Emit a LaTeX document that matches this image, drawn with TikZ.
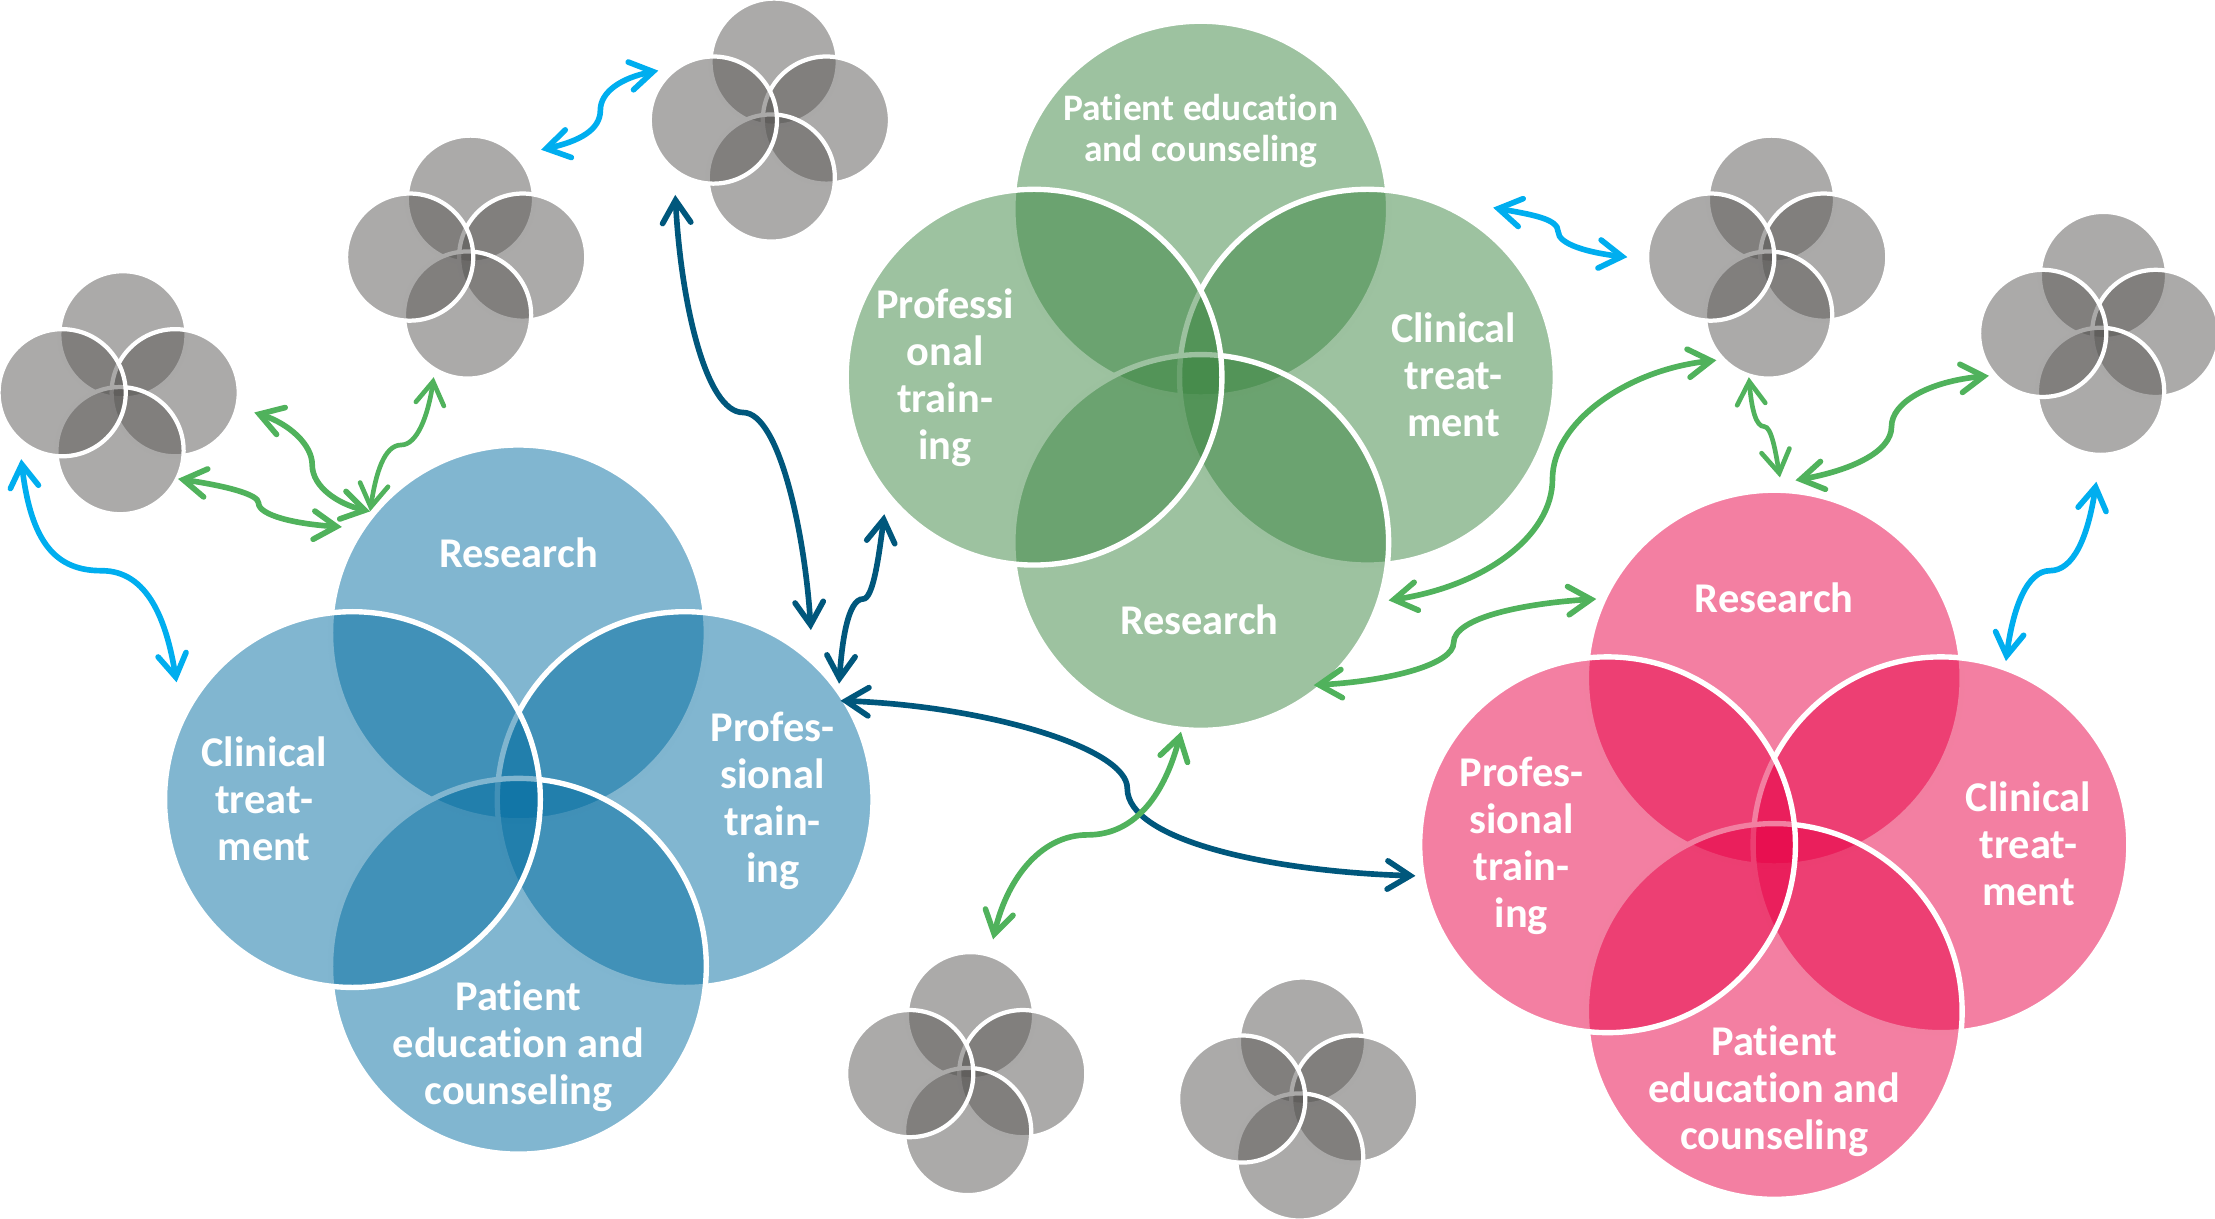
\documentclass[tikz,border=0pt]{standalone}
\usepackage{fontspec}
\setmainfont{Carlito}[Ligatures=NoCommon]
\usetikzlibrary{arrows.meta}
\definecolor{bluefill}{HTML}{036DA1}
\definecolor{greenfill}{HTML}{3B8541}
\definecolor{pinkfill}{HTML}{E70045}
\definecolor{greyfill}{HTML}{575553}
\definecolor{skyline}{HTML}{00AEEF}
\definecolor{leafline}{HTML}{50B25C}
\definecolor{deepline}{HTML}{00577C}
\tikzset{
    bigpetal/.style={circle, draw=white, line width=3.8pt, minimum size=266pt, inner sep=0pt, fill=#1, fill opacity=.5},
    minipetal/.style={circle, draw=white, line width=3pt, minimum size=90pt, inner sep=0pt, fill=greyfill, fill opacity=.5},
    label/.style={text=white, align=center, font=\fontsize{30}{33.3}\selectfont\bfseries, inner sep=0pt},
    link/.style={line width=4pt, {Straight Barb[length=16pt,width=20pt,line cap=round]}-{Straight Barb[length=16pt,width=20pt,line cap=round]}},
}
\begin{document}
\begin{tikzpicture}[x=1pt, y=-1pt]
    \useasboundingbox (0,0) rectangle (1568,862.9);

    % small grey groups
    \foreach \n/\cx/\cy in {a/84/278, b/330/182, c/545/85, d/1251/182, e/1486/236, f/684/760, g/919/778} {
        \node[minipetal] (\n top) at (\cx+3,\cy-41) {};
        \node[minipetal] (\n right) at (\cx+40,\cy) {};
        \node[minipetal] (\n bottom) at (\cx+1,\cy+41) {};
        \node[minipetal] (\n left) at (\cx-40,\cy) {};
    }

    % blue group
    \node[bigpetal=bluefill] (blueTop) at (367,448) {};
    \node[bigpetal=bluefill] (blueRight) at (485,566) {};
    \node[bigpetal=bluefill] (blueBottom) at (367,684) {};
    \node[bigpetal=bluefill] (blueLeft) at (249.5,566) {};

    % green group
    \node[bigpetal=greenfill] (greenTop) at (850,148) {};
    \node[bigpetal=greenfill] (greenRight) at (968,267) {};
    \node[bigpetal=greenfill] (greenBottom) at (850,384) {};
    \node[bigpetal=greenfill] (greenLeft) at (732,267) {};

    % pink group
    \node[bigpetal=pinkfill] (pinkTop) at (1256,480) {};
    \node[bigpetal=pinkfill] (pinkRight) at (1374,598) {};
    \node[bigpetal=pinkfill] (pinkBottom) at (1256,716) {};
    \node[bigpetal=pinkfill] (pinkLeft) at (1138,598) {};

    % arrow ends
    \coordinate (skyA) at (15,325);
    \coordinate (skyB) at (125,483);
    \coordinate (skyC) at (383,106);
    \coordinate (skyD) at (466,50);
    \coordinate (skyE) at (1057,147);
    \coordinate (skyF) at (1152,182);
    \coordinate (skyG) at (1484,341);
    \coordinate (skyH) at (1420,468);
    \coordinate (leafA) at (126,339);
    \coordinate (leafB) at (242,373);
    \coordinate (leafC) at (180,292);
    \coordinate (leafD) at (262,362);
    \coordinate (leafE) at (307,267);
    \coordinate (leafF) at (836,518);
    \coordinate (leafG) at (703,665);
    \coordinate (leafH) at (930,485);
    \coordinate (leafI) at (1130,424);
    \coordinate (leafJ) at (983,425);
    \coordinate (leafK) at (1215,255);
    \coordinate (leafL) at (1238,267);
    \coordinate (leafM) at (1260,338);
    \coordinate (leafN) at (1271,340);
    \coordinate (leafO) at (1408,266);
    \coordinate (deepA) at (478,138);
    \coordinate (deepB) at (574,446);
    \coordinate (deepC) at (626,364);
    \coordinate (deepD) at (594,484);
    \coordinate (deepE) at (595,496);
    \coordinate (deepF) at (1002,620);

    % dark arrows
    \draw[link, deepline] (deepA) .. controls (482,215) and (500,292) .. (526,292) .. controls (552,292) and (570,380) .. (deepB);
    \draw[link, deepline] (deepC) .. controls (622,395) and (618,424) .. (611,424) .. controls (600,424) and (596,455) .. (deepD);
    \draw[link, deepline] (deepE) .. controls (700,500) and (798,530) .. (798,558) .. controls (798,595) and (900,617) .. (deepF);

    % cyan arrows
    \draw[link, skyline] (skyA) .. controls (22,385) and (40,404) .. (72,404) .. controls (105,404) and (118,440) .. (skyB);
    \draw[link, skyline] (skyC) .. controls (410,100) and (425,92) .. (425,78) .. controls (425,65) and (440,55) .. (skyD);
    \draw[link, skyline] (skyE) .. controls (1085,152) and (1103,155) .. (1103,164) .. controls (1103,173) and (1125,179) .. (skyF);
    \draw[link, skyline] (skyG) .. controls (1478,380) and (1468,404) .. (1451,404) .. controls (1435,404) and (1425,430) .. (skyH);

    % green arrows
    \draw[link, leafline] (leafA) .. controls (160,344) and (183,350) .. (183,356) .. controls (183,365) and (210,371) .. (leafB);
    \draw[link, leafline] (leafC) .. controls (205,300) and (221,315) .. (221,329) .. controls (221,345) and (240,357) .. (leafD);
    \draw[link, leafline, line width=3.3pt] (leafE) .. controls (303,295) and (295,315) .. (284,315) .. controls (272,315) and (266,335) .. (leafD);
    \draw[link, leafline] (leafF) .. controls (825,560) and (805,591) .. (770,591) .. controls (735,591) and (712,625) .. (leafG);
    \draw[link, leafline] (leafH) .. controls (985,482) and (1029,470) .. (1029,455) .. controls (1029,437) and (1080,427) .. (leafI);
    \draw[link, leafline] (leafJ) .. controls (1050,415) and (1099,380) .. (1099,339) .. controls (1099,300) and (1150,262) .. (leafK);
    \draw[link, leafline, line width=3.3pt] (leafL) .. controls (1240,290) and (1243,302) .. (1249,302) .. controls (1254,302) and (1257,320) .. (leafM);
    \draw[link, leafline] (leafN) .. controls (1310,333) and (1339,320) .. (1339,302) .. controls (1339,285) and (1365,270) .. (leafO);

    % labels
    \node[label] (blueResearch) at (367,391) {Research};
    \node[label] (blueClinical) at (187,565.5) {Clinical\\treat-\\ment};
    \node[label] (blueTraining) at (547,567) {Profes-\\sional\\train-\\ing};
    \node[label] (bluePatient) at (367,740.5) {Patient\\education and\\counseling};

    \node[label, font=\fontsize{26.5}{29}\selectfont\bfseries] (greenPatient) at (850,93) {Patient education\\and counseling};
    \node[label] (greenTraining) at (669,267.5) {Professi\\onal\\train-\\ing};
    \node[label] (greenClinical) at (1029,265) {Clinical\\treat-\\ment};
    \node[label] (greenResearch) at (849,439) {Research};

    \node[label] (pinkResearch) at (1256,423) {Research};
    \node[label] (pinkTraining) at (1077,599) {Profes-\\sional\\train-\\ing};
    \node[label] (pinkClinical) at (1436,597.5) {Clinical\\treat-\\ment};
    \node[label] (pinkPatient) at (1256,772.5) {Patient\\education and\\counseling};
\end{tikzpicture}
\end{document}
